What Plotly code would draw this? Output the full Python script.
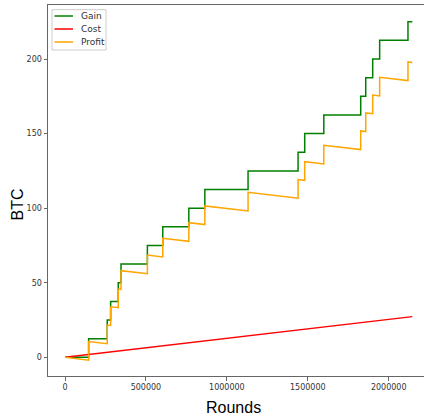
import plotly.graph_objects as go

# Gain: cumulative BTC, step changes at these rounds
gain_rounds = [0, 146000, 261000, 282000, 329000, 346000, 509000, 604000, 765000,
               864000, 1131000, 1440000, 1481000, 1599000, 1827000, 1858000,
               1901000, 1944000, 2119000, 2146000]
gain_values = [0, 12.5, 25, 37.5, 50, 62.5, 75, 87.5, 100, 112.5, 125, 137.5,
               150, 162.5, 175, 187.5, 200, 212.5, 225, 225]

# Cost: linear
cost_rounds = [0, 2146000]
cost_values = [0, 27.3]

# Profit: sawtooth (before/after each jump)
profit_rounds = [0, 146000, 146000, 261000, 261000, 282000, 282000, 329000, 329000,
                 346000, 346000, 509000, 509000, 604000, 604000, 765000, 765000,
                 864000, 864000, 1131000, 1131000, 1440000, 1440000, 1481000, 1481000,
                 1599000, 1599000, 1827000, 1827000, 1858000, 1858000, 1901000, 1901000,
                 1944000, 1944000, 2119000, 2119000, 2146000]
profit_values = [0, -1.86, 10.64, 9.18, 21.68, 21.41, 33.91, 33.31, 45.81,
                 45.60, 58.10, 56.03, 68.53, 67.32, 79.82, 77.77, 90.27,
                 89.01, 101.51, 98.11, 110.61, 106.68, 119.18, 118.66, 131.16,
                 129.66, 142.16, 139.26, 151.76, 151.36, 163.86, 163.32, 175.82,
                 175.27, 187.77, 185.54, 198.04, 197.70]

x_ticks = [0, 500000, 1000000, 1500000, 2000000]
x_tick_labels = ["0", "500000", "1000000", "1500000", "2000000"]
y_ticks = [0, 50, 100, 150, 200]
y_tick_labels = ["0", "50", "100", "150", "200"]

series_names = ["Gain", "Cost", "Profit"]
series_colors = ["green", "red", "orange"]

fig = go.Figure()
fig.add_trace(go.Scatter(x=gain_rounds, y=gain_values, mode="lines", name=series_names[0],
                         line=dict(color=series_colors[0], width=1.5, shape="hv")))
fig.add_trace(go.Scatter(x=cost_rounds, y=cost_values, mode="lines", name=series_names[1],
                         line=dict(color=series_colors[1], width=1.5)))
fig.add_trace(go.Scatter(x=profit_rounds, y=profit_values, mode="lines", name=series_names[2],
                         line=dict(color=series_colors[2], width=1.5)))

# Plot area in pixels: x 48..424, y 5..376
L, R, T, B = 48.0, 424.0, 5.0, 376.0
def px(x):
    return (x - L) / (R - L)
def py(y):
    return (B - y) / (B - T)

# Matplotlib-style compact legend (drawn manually)
shapes = [dict(type="rect", xref="paper", yref="paper",
               x0=px(52), x1=px(106), y0=py(50), y1=py(9.7),
               line=dict(color="#cccccc", width=1), fillcolor="white", layer="above")]
annotations = []
legend_rows = [16, 29, 42]
for name, color, row in zip(series_names, series_colors, legend_rows):
    shapes.append(dict(type="line", xref="paper", yref="paper",
                       x0=px(54.5), x1=px(73), y0=py(row), y1=py(row),
                       line=dict(color=color, width=1.5), layer="above"))
    annotations.append(dict(text=name, xref="paper", yref="paper",
                            x=px(79), y=py(row), xanchor="left", yanchor="middle",
                            showarrow=False,
                            font=dict(family="DejaVu Sans", size=9, color="#333333")))

# Axis titles
annotations.append(dict(text="Rounds", xref="paper", yref="paper",
                        x=px(233.7), y=py(407), xanchor="center", yanchor="middle",
                        showarrow=False,
                        font=dict(family="Liberation Sans", size=16, color="black")))
annotations.append(dict(text="BTC", xref="paper", yref="paper",
                        x=px(16.5), y=py(205), xanchor="center", yanchor="middle",
                        textangle=-90, showarrow=False,
                        font=dict(family="Liberation Sans", size=16, color="black")))

axis_font = dict(family="DejaVu Sans", size=8, color="#333333")
fig.update_layout(
    width=424, height=418,
    margin=dict(l=48, r=0, t=5, b=42),
    plot_bgcolor="white", paper_bgcolor="white",
    showlegend=False,
    shapes=shapes,
    annotations=annotations,
    xaxis=dict(range=[-105000, 2218000], tickvals=x_ticks, ticktext=x_tick_labels,
               showgrid=False, zeroline=False, showline=True, linecolor="#666666",
               linewidth=1, mirror=True, ticks="outside", ticklen=3.5,
               tickcolor="#666666", tickfont=axis_font),
    yaxis=dict(range=[-12.5, 236.2], tickvals=y_ticks, ticktext=y_tick_labels,
               showgrid=False, zeroline=False, showline=True, linecolor="#666666",
               linewidth=1, mirror=False, ticks="outside", ticklen=3.5,
               tickcolor="#666666", tickfont=axis_font),
)

fig.write_html("out.html", config={"displayModeBar": False},
               post_script="document.body.style.margin='0';")
